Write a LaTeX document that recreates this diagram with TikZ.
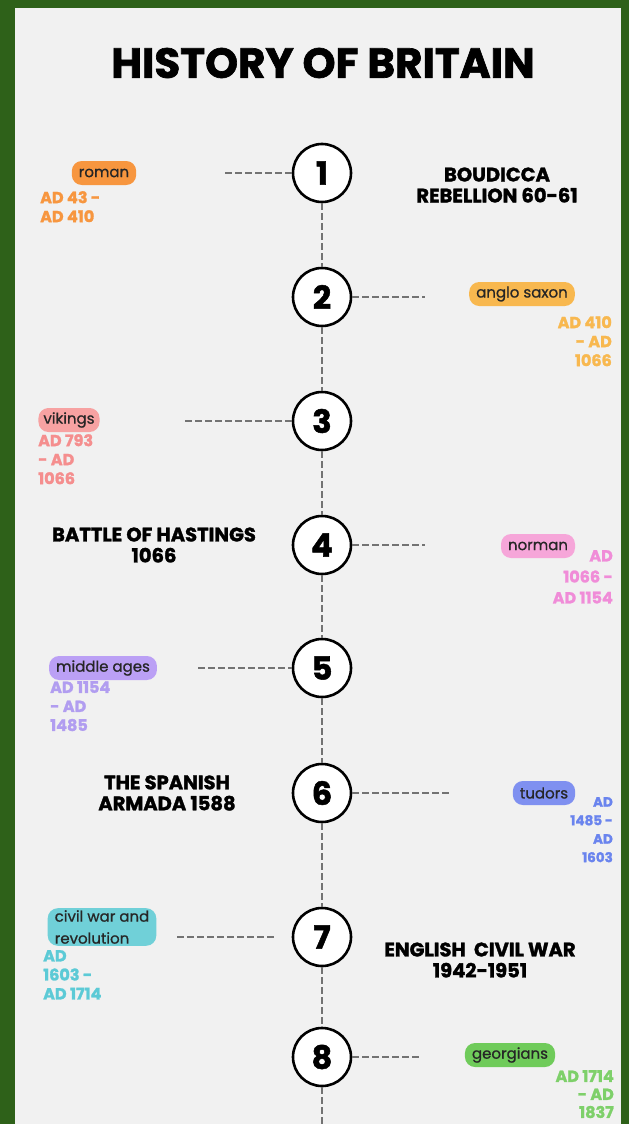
\documentclass[tikz,border=0pt]{standalone}
\usepackage{fontspec}
\setmainfont{Poppins}[BoldFeatures={FakeBold=1.6}]
\newfontfamily\pillfont{Poppins}[FakeBold=0.8]
\usepackage{xcolor}
\usetikzlibrary{positioning}
\definecolor{framegreen}{HTML}{2E6119}
\definecolor{panelgray}{HTML}{F1F1F1}
\definecolor{romanc}{HTML}{F7963F}
\definecolor{saxonc}{HTML}{F8B84F}
\definecolor{vikingc}{HTML}{F7A2A2}
\definecolor{vikingd}{HTML}{F58E8E}
\definecolor{normanc}{HTML}{F6A6D9}
\definecolor{normand}{HTML}{F08CD8}
\definecolor{middlec}{HTML}{BBA0F5}
\definecolor{middled}{HTML}{B19DF0}
\definecolor{tudorc}{HTML}{7F90F0}
\definecolor{tudord}{HTML}{6A84EE}
\definecolor{civilc}{HTML}{70D0D8}
\definecolor{civild}{HTML}{5CCAD6}
\definecolor{georgec}{HTML}{6FCB5A}
\definecolor{georged}{HTML}{7ED06A}

\begin{document}
\begin{tikzpicture}[
    x=1pt, y=-1pt,
    stepcirc/.style={circle, draw=black, line width=2.6pt, fill=white, minimum size=58pt, inner sep=0pt, font=\fontsize{32}{32}\selectfont\bfseries},
    pill/.style={rectangle, rounded corners=10pt, inner xsep=7pt, inner ysep=1pt, minimum height=24pt, font=\pillfont\fontsize{15}{22}\selectfont, text=black!85},
    datelbl/.style={font=\fontsize{16}{19}\selectfont\bfseries, inner sep=0pt},
    eventlbl/.style={align=center, font=\fontsize{19.5}{21}\selectfont\bfseries, inner sep=0pt},
    dashline/.style={draw=black!55, line width=1.8pt, dash pattern=on 7pt off 3pt},
]
\useasboundingbox (0,0) rectangle (629,1124);
\fill[framegreen] (0,0) rectangle (629,1124);
\fill[panelgray] (15,8) rectangle (621,1124);

\node[font=\fontsize{42}{42}\selectfont\bfseries] (title) at (323,63) {HISTORY OF BRITAIN};

% Numbered stations down the middle.
\node[stepcirc] (s1) at (322,173) {1};
\node[stepcirc] (s2) at (322,297) {2};
\node[stepcirc] (s3) at (322,421) {3};
\node[stepcirc] (s4) at (322,545) {4};
\node[stepcirc] (s5) at (322,668) {5};
\node[stepcirc] (s6) at (322,793) {6};
\node[stepcirc] (s7) at (322,937) {7};
\node[stepcirc] (s8) at (322,1057) {8};
\coordinate (tail) at (322,1124);

% Period pills with their dates.
\node[pill, fill=romanc] (roman) at (104,173) {roman};
\node[datelbl, text=romanc, align=left, anchor=north west] (romand) at (40,191) {AD 43 -\\AD 410};
\node[pill, fill=saxonc] (saxon) at (522,294) {anglo saxon};
\node[datelbl, text=saxonc, align=right, anchor=north east] (saxond) at (612,316) {AD 410\\- AD\\1066};
\node[pill, fill=vikingc, inner xsep=5pt] (viking) at (69,420) {vikings};
\node[datelbl, text=vikingd, align=left, anchor=north west] (vikingd) at (38,434) {AD 793\\- AD\\1066};
\node[pill, fill=normanc] (norman) at (538,546) {norman};
\node[datelbl, text=normand, align=right, anchor=north east, font=\fontsize{16}{21}\selectfont\bfseries] (normand) at (613,550) {AD\\1066 -\\AD 1154};
\node[pill, fill=middlec] (middle) at (103,668) {middle ages};
\node[datelbl, text=middled, align=left, anchor=north west] (middled) at (50,681) {AD 1154\\- AD\\1485};
\node[pill, fill=tudorc] (tudor) at (544,793) {tudors};
\node[datelbl, text=tudord, align=right, anchor=north east, font=\fontsize{13.5}{18.5}\selectfont\bfseries] (tudord) at (613,797) {AD\\1485 -\\AD\\1603};
\node[pill, fill=civilc, align=left, inner ysep=2pt] (civil) at (102,927) {civil war and\\revolution};
\node[datelbl, text=civild, align=left, anchor=north west] (civild) at (43,950) {AD\\1603 -\\AD 1714};
\node[pill, fill=georgec] (george) at (510,1055) {georgians};
\node[datelbl, text=georged, align=right, anchor=north east, font=\fontsize{16}{18}\selectfont\bfseries] (georged) at (614,1070) {AD 1714\\- AD\\1837};

% Events.
\node[eventlbl] (boudicca) at (497,185) {BOUDICCA\\REBELLION 60-61};
\node[eventlbl] (hastings) at (154,545) {BATTLE OF HASTINGS\\1066};
\node[eventlbl] (armada) at (167,793) {THE SPANISH\\ARMADA 1588};
\node[eventlbl] (civwar) at (480,960) {ENGLISH\ \ CIVIL WAR\\1942-1951};

% Free ends of the side ticks.
\coordinate (t1) at (225,173);
\coordinate (t2) at (425,297);
\coordinate (t3) at (185,421);
\coordinate (t4) at (425,545);
\coordinate (t5) at (198,668);
\coordinate (t6) at (450,793);
\coordinate (t7a) at (177,937);
\coordinate (t7b) at (277,937);
\coordinate (t8) at (422,1057);

% Spine.
\draw[dashline] (s1.south) -- (s2.north);
\draw[dashline] (s2.south) -- (s3.north);
\draw[dashline] (s3.south) -- (s4.north);
\draw[dashline] (s4.south) -- (s5.north);
\draw[dashline] (s5.south) -- (s6.north);
\draw[dashline] (s6.south) -- (s7.north);
\draw[dashline] (s7.south) -- (s8.north);
\draw[dashline] (s8.south) -- (tail);
% Side ticks.
\draw[dashline] (t1) -- (s1.west);
\draw[dashline] (s2.east) -- (t2);
\draw[dashline] (t3) -- (s3.west);
\draw[dashline] (s4.east) -- (t4);
\draw[dashline] (t5) -- (s5.west);
\draw[dashline] (s6.east) -- (t6);
\draw[dashline] (t7a) -- (t7b);
\draw[dashline] (s8.east) -- (t8);
\end{tikzpicture}
\end{document}
